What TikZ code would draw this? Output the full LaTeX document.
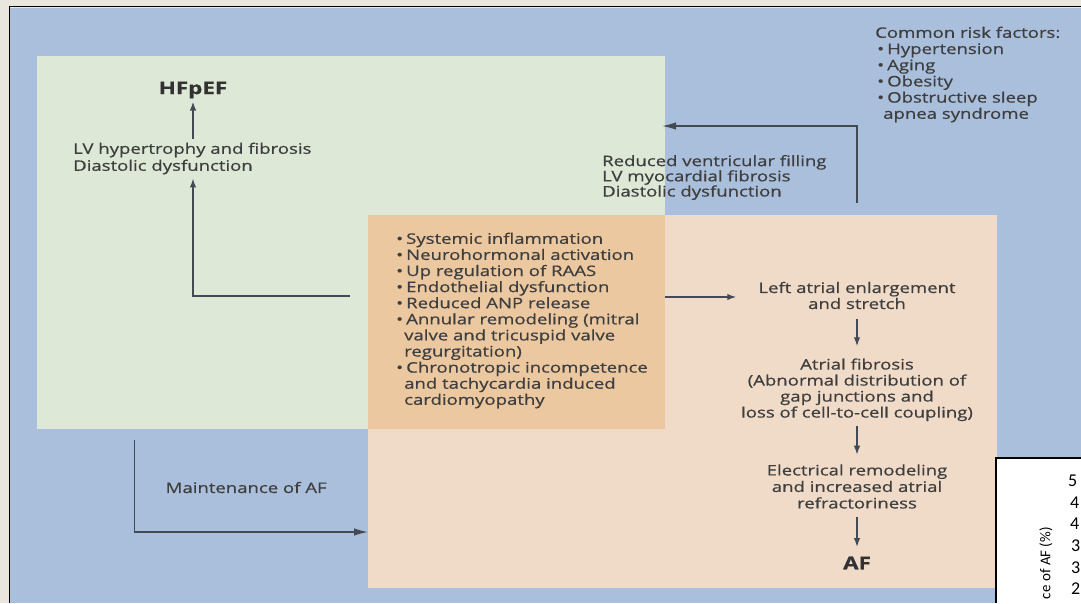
\documentclass[tikz,border=0pt]{standalone}
\usepackage{fontspec}
\setmainfont{Open Sans}[FakeStretch=1.28,FakeBold=0.6]
\newfontfamily\digitfont{Carlito}
\usetikzlibrary{arrows.meta}
\definecolor{outerbg}{RGB}{233,230,221}
\definecolor{bgblue}{RGB}{170,191,219}
\definecolor{boxgreen}{RGB}{222,232,214}
\definecolor{boxpeach}{RGB}{240,219,200}
\definecolor{boxoverlap}{RGB}{235,200,160}
\definecolor{txtgray}{RGB}{62,62,62}
\definecolor{headgray}{RGB}{50,50,50}
\definecolor{arrowgray}{RGB}{68,74,84}
\newcommand\mbul{\makebox[10pt][l]{•}}
\newcommand\rbul{\makebox[12pt][l]{\hspace{2pt}•}}
\begin{document}
\begin{tikzpicture}[x=1pt,y=-1pt,
  txt/.style={text=txtgray,inner sep=0pt,font=\fontsize{14.5}{16}\selectfont},
  head/.style={text=headgray,inner sep=0pt,font=\fontsize{17.5}{20}\selectfont\bfseries},
  arr/.style={draw=arrowgray,line width=1.4pt,-{Latex[length=9pt,width=6.5pt]}},
  longarr/.style={draw=arrowgray,line width=1.4pt,-{Latex[length=14pt,width=7.5pt]}},
  vstep/.style={arr,shorten <=7pt,shorten >=10pt},
  panel/.style={draw=none,inner sep=0pt,outer sep=0pt,anchor=north west},
  digit/.style={text=black,inner sep=0pt,font=\digitfont\fontsize{18}{20}\selectfont}
]
\useasboundingbox (0,0) rectangle (1081,603);
\fill[outerbg] (0,0) rectangle (1081,603);
\fill[bgblue] (10,8) rectangle (1081,603);
\draw[black,line width=1.5pt] (9.3,603) -- (9.3,6.7) -- (1081,6.7);

% panels
\node[panel,fill=boxgreen,minimum width=628pt,minimum height=373pt] (green) at (37,56) {};
\node[panel,fill=boxpeach,minimum width=629pt,minimum height=373pt] (peach) at (368,215) {};
\node[panel,fill=boxoverlap,minimum width=297pt,minimum height=214pt] (overlap) at (368,215) {};

% left column
\node[head] (hfpef) at (193,90) {HFpEF};
\node[txt,align=left,anchor=west,font=\fontsize{14.5}{17}\selectfont] (lv) at (73,158.5)
  {LV hypertrophy and fibrosis\\Diastolic dysfunction};
\draw[arr,shorten <=4pt,shorten >=3pt] (lv.north -| hfpef.south) -- (hfpef.south);

% mechanisms
\node[txt,align=left,anchor=west,font=\fontsize{14.5}{16.1}\selectfont] (mech) at (396,320.5)
  {\mbul Systemic inflammation\\
   \mbul Neurohormonal activation\\
   \mbul Up regulation of RAAS\\
   \mbul Endothelial dysfunction\\
   \mbul Reduced ANP release\\
   \mbul Annular remodeling (mitral\\
   \hspace*{8pt}valve and tricuspid valve\\
   \hspace*{8pt}regurgitation)\\
   \mbul Chronotropic incompetence\\
   \hspace*{8pt}and tachycardia induced\\
   \hspace*{8pt}cardiomyopathy};
\coordinate (mleft) at (350,296);
\draw[arr,shorten >=4pt] (mleft) -| (lv.south -| hfpef.south);

% right column
\node[txt,align=center] (lae) at (857,295.5) {Left atrial enlargement\\and stretch};
\node[txt,align=center] (afib) at (857,389.75)
  {Atrial fibrosis\\(Abnormal distribution of\\gap junctions and\\loss of cell-to-cell coupling)};
\node[txt,align=center,font=\fontsize{14.5}{16.5}\selectfont] (elec) at (857,486.5)
  {Electrical remodeling\\and increased atrial\\refractoriness};
\node[head] (af) at (857,563) {AF};
\draw[arr,shorten >=22pt] (overlap.east |- 0,297) -- (lae.west |- 0,297);
\draw[vstep,shorten <=9.5pt,shorten >=12pt] (lae.south) -- (afib.north);
\draw[vstep,shorten <=5pt,shorten >=9.5pt] (afib.south) -- (elec.north);
\draw[vstep,shorten <=8.5pt,shorten >=9.5pt] (elec.south) -- (af.north);

% reduced filling
\node[txt,align=left,anchor=west,font=\fontsize{14.5}{15.2}\selectfont] (red) at (602,177.5)
  {Reduced ventricular filling\\LV myocardial fibrosis\\Diastolic dysfunction};
\coordinate (rstart) at (857,203);
\draw[longarr,shorten >=-3pt] (rstart) |- (green.east |- 0,126);

% risk factors
\node[txt,align=left,anchor=west,font=\fontsize{14.5}{16.2}\selectfont] (risk) at (875,74.5)
  {Common risk factors:\\
   \rbul Hypertension\\
   \rbul Aging\\
   \rbul Obesity\\
   \rbul Obstructive sleep\\
   \hspace*{8pt}apnea syndrome};

% maintenance
\node[txt,anchor=west] (maint) at (165.5,487.5) {Maintenance of AF};
\coordinate (mstart) at (134.5,440);
\draw[longarr] (mstart) |- (peach.west |- 0,532);

% chart fragment
\fill[white] (996,458) rectangle (1081,603);
\draw[black,line width=1.5pt] (996,603) -- (996,458) -- (1081,458);
\node[digit,anchor=west] (d1) at (1068,481) {5};
\node[digit,anchor=west] (d2) at (1070,503) {4};
\node[digit,anchor=west] (d3) at (1070,524) {4};
\node[digit,anchor=west] (d4) at (1071,546) {3};
\node[digit,anchor=west] (d5) at (1071,568) {3};
\node[digit,anchor=west] (d6) at (1071,589) {2};
\node[digit,font=\digitfont\fontsize{15}{18}\selectfont,rotate=90,anchor=east] (ylab) at (1046,527) {ce of AF (\%)};
\end{tikzpicture}
\end{document}
